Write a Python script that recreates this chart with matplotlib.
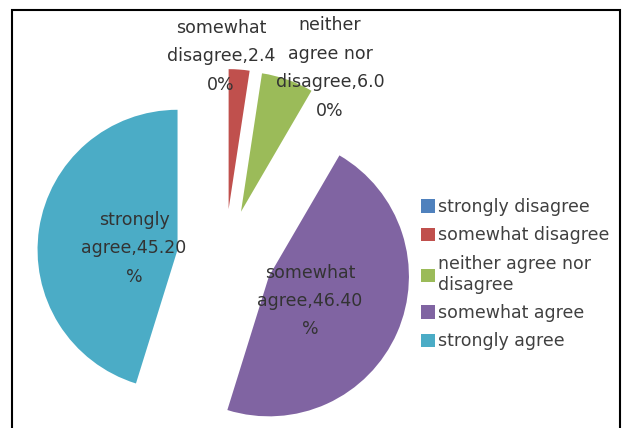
import matplotlib
matplotlib.use('Agg')
import matplotlib.pyplot as plt
from matplotlib.patches import Rectangle

# survey responses (percent)
categories = ['strongly disagree', 'somewhat disagree', 'neither agree nor disagree',
              'somewhat agree', 'strongly agree']
legend_labels = ['strongly disagree', 'somewhat disagree', 'neither agree nor\ndisagree',
                 'somewhat agree', 'strongly agree']
values = [0.0, 2.4, 6.0, 46.4, 45.2]
colors = ['#4F81BD', '#C0504D', '#9BBB59', '#8064A2', '#4BACC6']

# data label text, wrapped the way the chart shows it
label_lines = [None,
               ['somewhat', 'disagree,{:.1f}', '0%'],
               ['neither', 'agree nor', 'disagree,{:.1f}', '0%'],
               ['somewhat', 'agree,{:.2f}', '%'],
               ['strongly', 'agree,{:.2f}', '%']]
label_pos = [None, (221, 56), (330, 68), (310, 301), (134, 248)]

W, H = 624, 428
plt.rcParams['font.family'] = ['DejaVu Sans']

fig = plt.figure(figsize=(W / 100, H / 100), dpi=100)
ax = fig.add_axes([0, 0, 1, 1])

# explode is in data units here since the radius is in pixels
wedges, _ = ax.pie(values, colors=colors, startangle=90, counterclock=False,
                   explode=[48] * len(values), radius=140, center=(225, H - 257),
                   frame=True, wedgeprops=dict(linewidth=0))
ax.set_xlim(0, W)
ax.set_ylim(0, H)
ax.set_aspect('equal')
ax.axis('off')

for i, lines in enumerate(label_lines):
    if lines is None:
        continue
    txt = '\n'.join(lines).format(values[i])
    x, y = label_pos[i]
    ax.text(x, H - y, txt, ha='center', va='center', fontsize=12.5,
            color='#333333', linespacing=1.75)

leg = ax.legend(wedges, legend_labels, loc='upper left',
                bbox_to_anchor=(414 / W, 1 - 191 / H), frameon=False,
                fontsize=12.5, handlelength=0.8, handleheight=0.8,
                handletextpad=0.2, labelspacing=0.6, borderaxespad=0)
for t in leg.get_texts():
    t.set_color('#404040')

# outer chart border
ax.add_patch(Rectangle((12, -20), 608, H - 10 + 20, fill=False,
                       edgecolor='black', linewidth=1.5, clip_on=False))

fig.savefig('out.png', dpi=100)
